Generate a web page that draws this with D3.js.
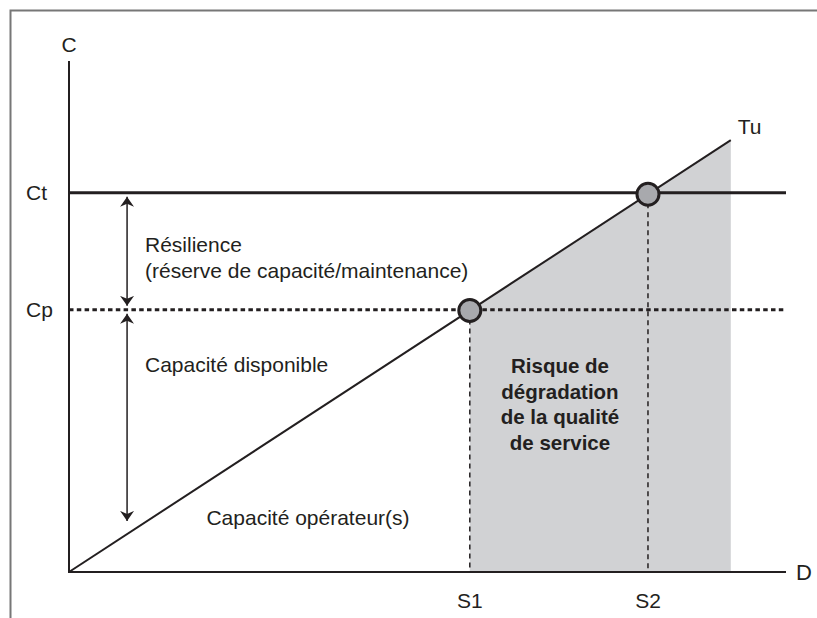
<!DOCTYPE html>
<html><head><meta charset="utf-8">
<script src="https://cdn.jsdelivr.net/npm/d3@7"></script>
<style>body{margin:0;background:#fff}svg{display:block}text{font-family:"Liberation Sans",Arial,sans-serif;fill:#231f20}</style>
</head><body>
<script>
// Data (conceptual units 0-100)
const capLabels = ["Ct", "Cp"];
const capValues = [74.2, 51.3];
const thresholdLabels = ["S1", "S2"];
const thresholdValues = [55.9, 80.75];
const tuLine = [[0, 0], [92.3, 84.5]];
const tuLabel = "Tu";
const axisLabels = ["C", "D"];
const arrowX = 8.1;
const arrowLowEnd = 10;
const annotations = ["Résilience", "(réserve de capacité/maintenance)", "Capacité disponible", "Capacité opérateur(s)"];
const riskLines = ["Risque de", "dégradation", "de la qualité", "de service"];

const W = 817, H = 618;
const svg = d3.select("body").append("svg").attr("width", W).attr("height", H);
const x = d3.scaleLinear().domain([0, 100]).range([69, 786]);
const y = d3.scaleLinear().domain([0, 100]).range([572, 61]);
const ink = "#231f20";
const fs = 21;

// frame
svg.append("path").attr("d", `M10.5,${H}V10.5H${W}`).attr("fill", "none").attr("stroke", "#777").attr("stroke-width", 2);

const slope = tuLine[1][1] / tuLine[1][0];
const tu = d => d * slope;

// shaded risk area
const s1 = thresholdValues[0], xe = tuLine[1][0];
const area = d3.area().x(d => x(d)).y0(y(0)).y1(d => y(tu(d)));
svg.append("path").datum([s1, xe]).attr("d", area).attr("fill", "#d1d2d4");

// axes
const axis = d3.line();
svg.append("path").attr("d", axis([[x(0), y(100)], [x(0), y(0)], [x(100), y(0)]]))
  .attr("fill", "none").attr("stroke", ink).attr("stroke-width", 2);
svg.append("text").attr("x", x(0)).attr("y", 52).attr("text-anchor", "middle").attr("font-size", fs).text(axisLabels[0]);
svg.append("text").attr("x", 796).attr("y", y(0) + 8).attr("font-size", fs + 1).text(axisLabels[1]);

// vertical dashed threshold lines
thresholdValues.forEach((v, i) => {
  svg.append("line").attr("x1", x(v)).attr("x2", x(v)).attr("y1", y(tu(v))).attr("y2", y(0))
    .attr("stroke", ink).attr("stroke-width", 1.5).attr("stroke-dasharray", "5,4");
  svg.append("text").attr("x", x(v)).attr("y", 608).attr("text-anchor", "middle").attr("font-size", fs).text(thresholdLabels[i]);
});

// capacity lines
capValues.forEach((v, i) => {
  svg.append("line").attr("x1", x(0)).attr("x2", x(100)).attr("y1", y(v)).attr("y2", y(v))
    .attr("stroke", ink).attr("stroke-width", 3).attr("stroke-dasharray", i === 1 ? "4.5,3.3" : null);
  svg.append("text").attr("x", 26).attr("y", y(v) + 7).attr("font-size", fs).text(capLabels[i]);
});

// Tu line
svg.append("path").datum(tuLine).attr("d", d3.line().x(d => x(d[0])).y(d => y(d[1])))
  .attr("fill", "none").attr("stroke", ink).attr("stroke-width", 2);
svg.append("text").attr("x", x(tuLine[1][0]) + 7).attr("y", y(tuLine[1][1]) - 6).attr("font-size", fs).text(tuLabel);

// intersection circles
thresholdValues.forEach(v => {
  svg.append("circle").attr("cx", x(v)).attr("cy", y(tu(v))).attr("r", 11)
    .attr("fill", "#a8a9ad").attr("stroke", ink).attr("stroke-width", 3);
});

// double arrows
const defs = svg.append("defs");
defs.append("marker").attr("id", "ah").attr("viewBox", "0 0 10 14").attr("refX", 10).attr("refY", 7)
  .attr("markerWidth", 10).attr("markerHeight", 14).attr("markerUnits", "userSpaceOnUse").attr("orient", "auto-start-reverse")
  .append("path").attr("d", "M0,0L10,7L0,14L3,7Z").attr("fill", ink);
const ax = x(arrowX);
svg.append("line").attr("x1", ax).attr("x2", ax).attr("y1", y(capValues[0]) + 4).attr("y2", y(capValues[1]) - 4)
  .attr("stroke", ink).attr("stroke-width", 1.5).attr("marker-start", "url(#ah)").attr("marker-end", "url(#ah)");
svg.append("line").attr("x1", ax).attr("x2", ax).attr("y1", y(capValues[1]) + 4).attr("y2", y(arrowLowEnd))
  .attr("stroke", ink).attr("stroke-width", 1.5).attr("marker-start", "url(#ah)").attr("marker-end", "url(#ah)");

// annotations
const tx = 145;
svg.append("text").attr("x", tx).attr("y", 252).attr("font-size", fs).text(annotations[0]);
svg.append("text").attr("x", tx).attr("y", 278).attr("font-size", fs).text(annotations[1]);
svg.append("text").attr("x", tx).attr("y", 372).attr("font-size", fs).text(annotations[2]);
svg.append("text").attr("x", 308).attr("y", 525).attr("text-anchor", "middle").attr("font-size", fs).text(annotations[3]);

// risk text
riskLines.forEach((t, i) => {
  svg.append("text").attr("x", 560).attr("y", 373 + i * 25.7).attr("text-anchor", "middle")
    .attr("font-size", fs - 0.5).attr("font-weight", "bold").text(t);
});
</script>
</body></html>
